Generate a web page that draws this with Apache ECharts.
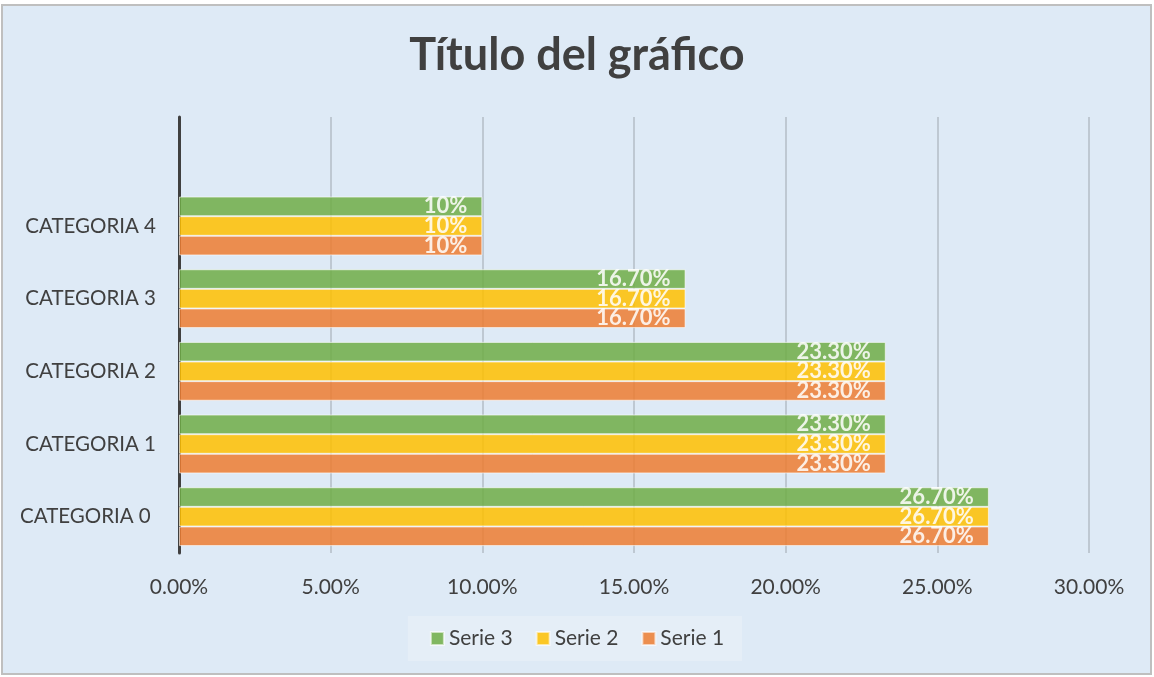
<!DOCTYPE html>
<html>
<head>
<meta charset="utf-8">
<script src="https://cdn.jsdelivr.net/npm/echarts@6/dist/echarts.min.js"></script>
<style>
  html, body { margin: 0; padding: 0; background: #ffffff; }
  #frame {
    position: absolute; left: 1px; top: 4px; width: 1151px; height: 671px;
    box-sizing: border-box; border: 2px solid #bfbfbf; background: #deeaf6;
  }
  #chart { position: absolute; left: 0; top: 0; width: 1154px; height: 677px; }
</style>
</head>
<body>
<div id="frame"></div>
<div id="chart"></div>
<script>
// categorias (la ultima vacia deja el hueco de arriba)
var categorias = ['CATEGORIA 0 ', 'CATEGORIA 1', 'CATEGORIA 2', 'CATEGORIA 3', 'CATEGORIA 4', ''];
var serie1 = [26.7, 23.3, 23.3, 16.7, 10];
var serie2 = [26.7, 23.3, 23.3, 16.7, 10];
var serie3 = [26.7, 23.3, 23.3, 16.7, 10];
var ticksX = [0, 5, 10, 15, 20, 25, 30];

var fuente = 'Lato, "Open Sans", sans-serif';

function etiqueta(p) {
    var v = p.value;
    return Number.isInteger(v) ? v + '%' : v.toFixed(2) + '%';
}

function serie(nombre, datos, color) {
    return {
        name: nombre,
        type: 'bar',
        data: datos,
        barGap: '0%',
        barCategoryGap: '19%',
        itemStyle: {
            color: color,
            opacity: 0.85,
            borderColor: 'rgba(255,255,255,0.7)',
            borderWidth: 1
        },
        label: {
            show: true,
            position: 'insideRight',
            distance: 15,
            color: '#ffffff',
            fontFamily: fuente,
            fontWeight: 'bold',
            fontSize: 22,
            formatter: etiqueta
        }
    };
}

var myChart = echarts.init(document.getElementById('chart'));

var option = {
    backgroundColor: 'transparent',
    animation: false,
    title: {
        text: 'Título del gráfico',
        left: 'center',
        top: 28,
        textStyle: {
            fontFamily: fuente,
            fontWeight: 'bold',
            fontSize: 45,
            color: '#404040'
        }
    },
    legend: {
        data: ['Serie 3', 'Serie 2', 'Serie 1'],
        bottom: 16,
        left: 'center',
        backgroundColor: '#e5eef7',
        padding: [12, 18, 12, 22],
        itemWidth: 13,
        itemHeight: 13,
        itemGap: 23,
        icon: 'rect',
        textStyle: { fontFamily: fuente, fontSize: 21, color: '#404040' }
    },
    grid: { left: 179, right: 65, top: 117, bottom: 124 },
    xAxis: {
        type: 'value',
        min: 0,
        max: 30,
        interval: 5,
        axisLine: { show: false },
        axisTick: { show: false },
        splitLine: { show: true, lineStyle: { color: '#b3bcc6', width: 1.5 } },
        axisLabel: {
            margin: 24,
            fontFamily: fuente,
            fontSize: 21,
            color: '#404040',
            formatter: function (v) { return ticksX.indexOf(v) >= 0 ? v.toFixed(2) + '%' : ''; }
        }
    },
    yAxis: {
        type: 'category',
        data: categorias,
        axisLine: { show: true, lineStyle: { color: '#404040', width: 3 } },
        axisTick: { show: false },
        axisLabel: {
            margin: 23,
            fontFamily: fuente,
            fontSize: 20.5,
            color: '#404040'
        }
    },
    series: [
        serie('Serie 3', serie3, '#70ad47'),
        serie('Serie 2', serie2, '#ffc000'),
        serie('Serie 1', serie1, '#ed7d31')
    ]
};

myChart.setOption(option);
</script>
</body>
</html>
